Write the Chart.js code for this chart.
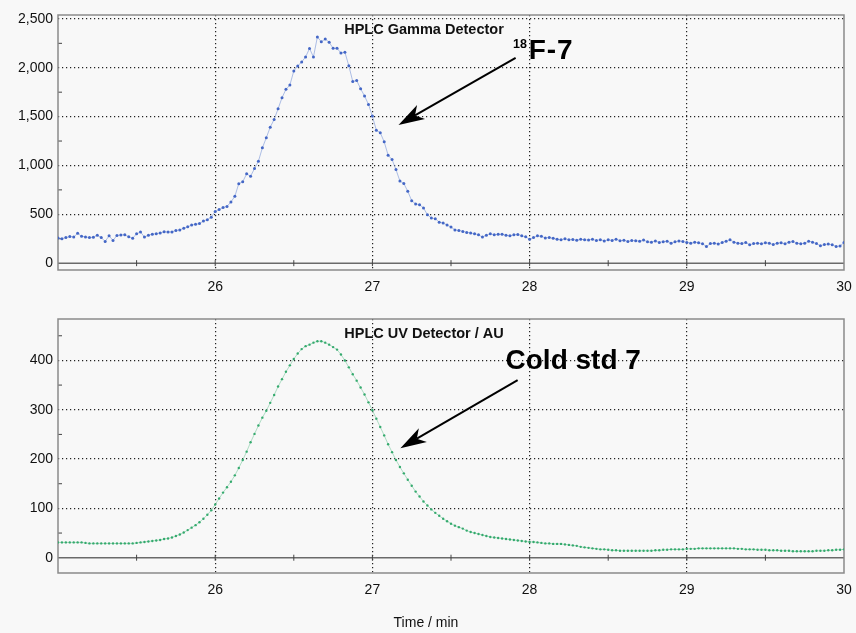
<!DOCTYPE html>
<html>
<head>
<meta charset="utf-8">
<title>HPLC gamma / UV traces</title>
<script src="https://cdn.jsdelivr.net/npm/chart.js@4.4.1/dist/chart.umd.min.js"></script>
<style>
  body { margin: 0; background: #f8f8f8; }
  #wrap { position: relative; width: 856px; height: 633px; }
  canvas { position: absolute; left: 0; }
  #gammaChart { top: 0; }
  #uvChart { top: 300px; }
</style>
</head>
<body>
<div id="wrap">
  <canvas id="gammaChart" width="856" height="300"></canvas>
  <canvas id="uvChart" width="856" height="333"></canvas>
</div>
<script>
// both traces are sampled on the same time grid (min)
const timeStart = 25;
const timeStep = 0.025;

// gamma detector counts, one row = 0.2 min
const gammaCounts = [
  258,250,262,272,268,305,275,268,
  262,266,285,262,222,280,232,284,
  288,290,270,256,300,318,268,285,
  297,302,308,322,318,320,335,340,
  358,372,390,398,405,432,445,470,
  530,548,570,581,626,684,814,833,
  914,890,968,1043,1180,1283,1392,1471,
  1580,1693,1779,1823,1967,2018,2060,2110,
  2197,2110,2316,2265,2295,2260,2200,2200,
  2150,2160,2020,1860,1870,1785,1711,1625,
  1505,1360,1335,1242,1105,1060,958,840,
  815,735,640,606,599,565,496,462,
  455,420,411,390,370,340,335,325,
  315,308,301,290,267,285,301,290,
  295,297,285,280,290,294,280,270,
  246,262,280,275,258,263,255,245,
  239,250,239,242,235,245,239,236,
  245,232,240,228,239,232,246,230,
  235,222,232,229,225,238,218,215,
  228,212,220,225,205,218,228,222,
  212,205,215,210,198,171,200,205,
  195,212,225,239,215,205,200,212,
  188,200,205,198,210,205,190,205,
  208,198,215,222,205,198,205,225,
  215,200,178,190,195,188,171,175,
  212
];

// UV detector, AU
const uvAbs = [
  31,31,31,31,31,31,31,30,
  29,29,29,29,29,29,29,29,
  29,29,29,29,30,31,32,33,
  34,35,36,38,39,41,44,47,
  51,56,61,66,72,79,87,96,
  108,120,132,143,154,167,182,198,
  215,234,251,268,284,298,314,330,
  347,362,377,390,403,414,423,429,
  432,436,439,439,436,432,427,422,
  412,400,386,372,359,345,331,315,
  299,282,265,248,230,214,198,184,
  171,158,146,134,124,114,106,98,
  91,85,79,74,69,65,62,59,
  55,52,50,48,46,44,42,41,
  40,39,38,37,36,35,34,33,
  32,32,31,30,29,29,28,28,
  28,27,26,25,24,22,21,20,
  19,18,17,17,16,15,15,14,
  14,14,14,14,14,14,14,14,
  15,15,16,16,17,17,17,17,
  18,18,18,19,19,19,19,19,
  19,19,19,19,19,18,18,17,
  17,17,16,16,16,15,15,15,
  14,14,14,13,13,13,13,13,
  13,14,14,14,15,15,16,16,
  17
];

// axes
const xTicks = [26, 27, 28, 29, 30];
const xMinorTicks = [25.5, 26, 26.5, 27, 27.5, 28, 28.5, 29, 29.5];
const gammaTicks = [0, 500, 1000, 1500, 2000, 2500];
const gammaMinor = [250, 750, 1250, 1750, 2250];
const uvTicks = [0, 100, 200, 300, 400];
const uvMinor = [50, 150, 250, 350, 450];

// annotations, in data units: [time, value]
const gammaLabelPos = [27.994, 2088];
const gammaSupPos = [27.895, 2200];
const gammaArrow = [27.911, 2101, 27.166, 1415]; // tail then tip
const uvLabelPos = [27.847, 382];
const uvArrow = [27.924, 360, 27.178, 222];

const FONT = '"Liberation Sans", Arial, sans-serif';
Chart.defaults.font.family = FONT;

function toPoints(values) {
  return values.map(function (v, i) {
    return { x: timeStart + i * timeStep, y: v };
  });
}

function line(ctx, x1, y1, x2, y2) {
  ctx.beginPath();
  ctx.moveTo(x1, y1);
  ctx.lineTo(x2, y2);
  ctx.stroke();
}

function drawArrow(ctx, x1, y1, x2, y2) {
  const a = Math.atan2(y2 - y1, x2 - x1);
  const ux = Math.cos(a), uy = Math.sin(a);
  const len = 26, half = 8, notch = 19;
  ctx.strokeStyle = '#000';
  ctx.fillStyle = '#000';
  ctx.lineWidth = 2;
  line(ctx, x1, y1, x2 - ux * notch, y2 - uy * notch);
  ctx.beginPath();
  ctx.moveTo(x2, y2);
  ctx.lineTo(x2 - ux * len - uy * half, y2 - uy * len + ux * half);
  ctx.lineTo(x2 - ux * notch, y2 - uy * notch);
  ctx.lineTo(x2 - ux * len + uy * half, y2 - uy * len - ux * half);
  ctx.closePath();
  ctx.fill();
}

// box, zero line, minor ticks, titles and arrows
const framePlugin = {
  id: 'frame',
  beforeDatasetsDraw(chart, args, opts) {
    const ctx = chart.ctx;
    const a = chart.chartArea;
    const x = chart.scales.x, y = chart.scales.y;
    const y0 = y.getPixelForValue(0);
    ctx.save();
    ctx.strokeStyle = '#6a6a6a';
    ctx.lineWidth = 1.5;
    line(ctx, a.left, y0, a.right, y0);
    ctx.lineWidth = 1;
    ctx.strokeStyle = '#444';
    xMinorTicks.forEach(function (t) {
      const px = x.getPixelForValue(t);
      line(ctx, px, y0 - 3, px, y0 + 3);
    });
    opts.minorY.forEach(function (v) {
      const py = y.getPixelForValue(v);
      line(ctx, a.left, py, a.left + 4, py);
    });
    ctx.strokeStyle = '#8a8a8a';
    ctx.lineWidth = 1.5;
    ctx.strokeRect(a.left, a.top, a.right - a.left, a.bottom - a.top);
    ctx.restore();
  },
  afterDraw(chart, args, opts) {
    const ctx = chart.ctx;
    const a = chart.chartArea;
    const x = chart.scales.x, y = chart.scales.y;
    ctx.save();
    ctx.fillStyle = '#111';
    ctx.textAlign = 'center';
    ctx.textBaseline = 'middle';
    ctx.font = 'bold 14.5px ' + FONT;
    ctx.fillText(opts.title, (a.left + a.right) / 2 - 27, a.top + 15);

    if (opts.xTitle) {
      ctx.font = '14px ' + FONT;
      ctx.fillText(opts.xTitle, (a.left + a.right) / 2 - 25, a.bottom + 50);
    }

    ctx.textAlign = 'left';
    ctx.textBaseline = 'alphabetic';
    ctx.fillStyle = '#000';
    if (opts.sup) {
      ctx.font = 'bold 12.5px ' + FONT;
      ctx.fillText(opts.sup, x.getPixelForValue(opts.supPos[0]), y.getPixelForValue(opts.supPos[1]));
    }
    ctx.font = 'bold 28px ' + FONT;
    ctx.letterSpacing = opts.spacing || '0px';
    ctx.fillText(opts.label, x.getPixelForValue(opts.labelPos[0]), y.getPixelForValue(opts.labelPos[1]));
    ctx.letterSpacing = '0px';

    const ar = opts.arrow;
    drawArrow(ctx, x.getPixelForValue(ar[0]), y.getPixelForValue(ar[1]),
      x.getPixelForValue(ar[2]), y.getPixelForValue(ar[3]));
    ctx.restore();
  }
};

function makeChart(canvas, cfg) {
  return new Chart(canvas, {
    type: 'line',
    data: {
      datasets: [{
        data: toPoints(cfg.values),
        borderColor: cfg.lineColor,
        borderWidth: 0.8,
        pointRadius: cfg.pointRadius,
        pointBackgroundColor: cfg.pointColor,
        pointBorderWidth: 0,
        tension: 0
      }]
    },
    options: {
      responsive: false,
      animation: false,
      layout: { padding: { top: cfg.padTop, right: 12, left: 0, bottom: 0 } },
      plugins: {
        legend: { display: false },
        tooltip: { enabled: false },
        frame: cfg.frame
      },
      scales: {
        x: {
          type: 'linear',
          min: 25,
          max: 30,
          afterBuildTicks: function (scale) {
            scale.ticks = xTicks.map(function (v) { return { value: v }; });
          },
          afterFit: function (scale) {
            scale.height = cfg.xHeight;
            // the "30" label may hang past the frame, like the original
            scale.paddingLeft = 0;
            scale.paddingRight = 0;
          },
          ticks: {
            autoSkip: false,
            maxRotation: 0,
            padding: 9,
            color: '#111',
            font: { size: 14 },
            callback: function (v) { return String(v); }
          },
          grid: {
            drawTicks: false,
            lineWidth: 1.2,
            color: function (c) { return c.tick && c.tick.value === 30 ? 'rgba(0,0,0,0)' : '#222'; }
          },
          border: { display: false, dash: [1.2, 2.8] }
        },
        y: {
          min: cfg.yMin,
          max: cfg.yMax,
          afterBuildTicks: function (scale) {
            scale.ticks = cfg.yTicks.map(function (v) { return { value: v }; });
          },
          afterFit: function (scale) {
            scale.width = 58;
            scale.paddingTop = 0;
            scale.paddingBottom = 0;
          },
          ticks: {
            padding: 5,
            color: '#111',
            font: { size: 14 },
            callback: function (v) { return v.toLocaleString('en-US'); }
          },
          grid: {
            drawTicks: false,
            lineWidth: 1.2,
            color: function (c) { return c.tick && c.tick.value === 0 ? 'rgba(0,0,0,0)' : '#222'; }
          },
          border: { display: false, dash: [1.2, 2.8] }
        }
      }
    },
    plugins: [framePlugin]
  });
}

makeChart(document.getElementById('gammaChart'), {
  values: gammaCounts,
  lineColor: 'rgba(120,150,215,0.75)',
  pointColor: '#4467c6',
  pointRadius: 1.5,
  padTop: 15,
  xHeight: 30,
  yMin: -70,
  yMax: 2540,
  yTicks: gammaTicks,
  frame: {
    minorY: gammaMinor,
    title: 'HPLC Gamma Detector',
    sup: '18',
    supPos: gammaSupPos,
    label: 'F-7',
    spacing: '1px',
    labelPos: gammaLabelPos,
    arrow: gammaArrow
  }
});

makeChart(document.getElementById('uvChart'), {
  values: uvAbs,
  lineColor: 'rgba(130,205,165,0.8)',
  pointColor: '#35aa6e',
  pointRadius: 1.2,
  padTop: 19,
  xHeight: 60,
  yMin: -31,
  yMax: 484,
  yTicks: uvTicks,
  frame: {
    minorY: uvMinor,
    title: 'HPLC UV Detector / AU',
    xTitle: 'Time / min',
    label: 'Cold std 7',
    labelPos: uvLabelPos,
    arrow: uvArrow
  }
});
</script>
</body>
</html>
